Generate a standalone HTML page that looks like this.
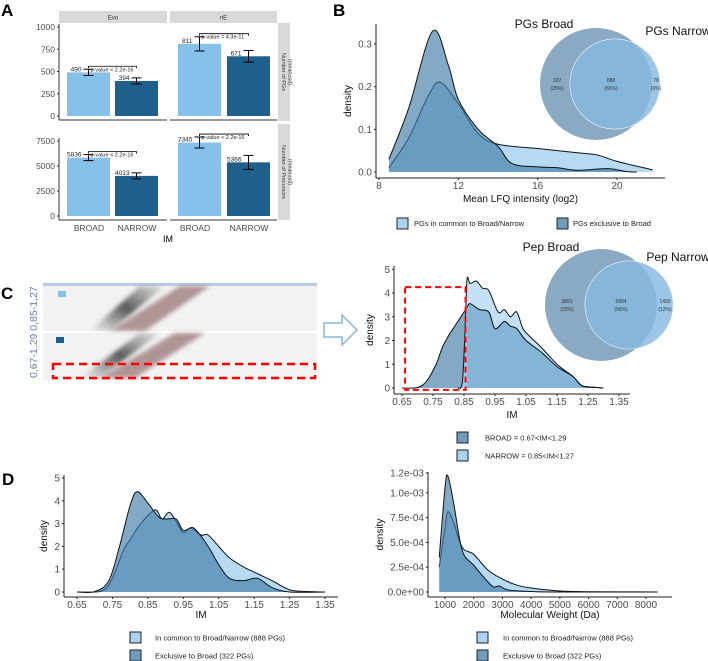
<!DOCTYPE html>
<html><head><meta charset="utf-8"><style>
body{margin:0;background:#fff}
svg{display:block;font-family:"Liberation Sans",sans-serif}
</style></head><body>
<svg id="s" width="708" height="661" viewBox="0 0 708 661" xmlns="http://www.w3.org/2000/svg">
<defs>
<linearGradient id="sm" x1="0" y1="1" x2="1" y2="0"><stop offset="0" stop-color="#444" stop-opacity="0"/><stop offset="0.5" stop-color="#333" stop-opacity="0.8"/><stop offset="1" stop-color="#555" stop-opacity="0.1"/></linearGradient>
<filter id="bl"><feGaussianBlur stdDeviation="2"/></filter>
</defs>
<g font-weight="bold" font-size="17" fill="#000">
<text x="1" y="16">A</text>
<text x="333" y="16">B</text>
<text x="1" y="299">C</text>
<text x="2" y="485">D</text>
</g>
<!-- C left image -->
<g>
<rect x="43" y="283" width="274" height="3" fill="#b9cde6"/>
<rect x="43" y="286" width="274" height="45" fill="#f2f2f2"/>
<rect x="43" y="333" width="274" height="47" fill="#f2f2f2"/>
<polygon points="90,331 110,331 165,286 140,286" fill="url(#sm)" filter="url(#bl)"/>
<polygon points="110,331 145,331 210,286 180,286" fill="#7a4a4a" opacity="0.55" filter="url(#bl)"/>
<polygon points="80,378 100,378 160,333 140,333" fill="url(#sm)" filter="url(#bl)"/>
<polygon points="100,378 135,378 205,333 175,333" fill="#7a4a4a" opacity="0.55" filter="url(#bl)"/>
<rect x="58" y="291" width="8" height="6" fill="#85c1e9"/>
<rect x="56" y="337" width="8" height="6" fill="#1f5f8b"/>
<rect x="53" y="364" width="262" height="14" fill="none" stroke="#f00" stroke-width="2.5" stroke-dasharray="8,5"/>
<text transform="translate(37,378) rotate(-90)" font-size="10.5" fill="#6f7fb0">0,67-1,29 0,85-1,27</text>
<path d="M324,323 h18 v-8 l15,15 l-15,15 v-8 h-18 z" fill="#fff" stroke="#85b5dd" stroke-width="1.5"/>
</g>
<g id="g"></g>
</svg>
<script>
// ---- data ----
const barCats=["BROAD","NARROW"];
const pgsEvo=[490,394], pgsEvoErr=[35,35];
const pgsNE=[811,671], pgsNEErr=[80,65];
const precEvo=[5836,4013], precEvoErr=[300,300];
const precNE=[7345,5366], precNEErr=[550,700];
const bX_common=[8.5,9.5,10.5,11.1,12,13,14,16,18,19,20,21.8];
const bY_common=[0.01,0.08,0.18,0.21,0.16,0.09,0.065,0.055,0.045,0.04,0.025,0.005];
const bX_excl=[8.5,9.5,10.7,11.5,12,13,14,14.7,16,17,18,19.5,20.5,21];
const bY_excl=[0.03,0.15,0.33,0.25,0.17,0.1,0.06,0.02,0.012,0.01,0.004,0.008,0.001,0];
const cX_broad=[0.65,0.70,0.73,0.76,0.78,0.80,0.82,0.84,0.86,0.87,0.90,0.93,0.95,0.98,1.00,1.02,1.05,1.10,1.15,1.20,1.23,1.27,1.30];
const cY_broad=[0,0.02,0.3,1.0,1.7,2.2,2.6,3.0,3.4,3.55,3.3,3.2,2.5,2.8,2.6,2.5,2.0,1.5,0.9,0.5,0.1,0.03,0];
const cX_narrow=[0.83,0.845,0.855,0.86,0.87,0.89,0.91,0.93,0.96,0.98,1.0,1.02,1.04,1.06,1.10,1.15,1.20,1.23,1.27];
const cY_narrow=[0,0.3,3.0,4.6,4.4,4.5,4.2,4.1,3.2,3.3,3.0,3.2,2.5,2.2,1.7,1.0,0.5,0.1,0.01];
const dX_common=[0.65,0.72,0.75,0.78,0.80,0.83,0.87,0.89,0.91,0.93,0.95,0.97,1.0,1.02,1.05,1.08,1.12,1.16,1.2,1.25,1.3,1.35];
const dY_common=[0,0.05,0.6,1.8,2.3,3.0,3.6,3.2,3.5,3.1,2.6,2.8,2.5,2.5,2.0,1.5,1.1,0.8,0.5,0.1,0.02,0];
const dX_excl=[0.65,0.7,0.74,0.77,0.80,0.82,0.85,0.88,0.90,0.93,0.95,0.98,1.02,1.05,1.08,1.12,1.16,1.20,1.25,1.35];
const dY_excl=[0,0.02,0.5,2.0,3.8,4.4,3.9,3.3,3.2,3.2,2.7,2.8,2.0,1.2,0.6,0.5,0.6,0.2,0,0];
const mwX_common=[800,1000,1100,1300,1600,2000,2500,3000,3500,4000,5000,6000,8400];
const mwY_common=[2.5e-4,6.5e-4,8.1e-4,7e-4,4.5e-4,3.8e-4,2.2e-4,1.3e-4,7e-5,4e-5,1e-5,3e-6,0];
const mwX_excl=[800,1000,1100,1300,1600,2000,2500,2700,2900,3200,4000,5000,8400];
const mwY_excl=[3.5e-4,1.05e-3,1.17e-3,9e-4,4.2e-4,2.7e-4,1.0e-4,5e-5,6e-5,2e-5,5e-6,0,0];

const NS="http://www.w3.org/2000/svg", G=document.getElementById('g');
function el(t,a,p){const e=document.createElementNS(NS,t);for(const k in a)e.setAttribute(k,a[k]);(p||G).appendChild(e);return e;}
function txt(x,y,s,a,p){const e=el('text',Object.assign({x:x,y:y},a||{}),p);e.textContent=s;return e;}
const LIGHT="#85c1e9",DARK="#1f5f8b",GREY="#4d4d4d";

// ---- Panel A ----
function lin(d0,d1,r0,r1){return v=>r0+(v-d0)/(d1-d0)*(r1-r0);}
const stripY=11,stripH=12;
[["Evo",59,167],["nE",170,277]].forEach(([n,x0,x1])=>{
 const r=el('rect',{x:x0,y:stripY,width:x1-x0,height:stripH,fill:"#d9d9d9"});
 
 
 txt((x0+x1)/2,stripY+8.5,n,{'font-size':6,'text-anchor':'middle',fill:'#333'});
});
[[23,121,"Number of PGs","(mean±sd)"],[124,220,"Number of Precursors","(mean±sd)"]].forEach(([y0,y1,a,b],i)=>{
 const r=el('rect',{x:278,y:y0,width:12,height:y1-y0,fill:"#d9d9d9"});
 
 
 const t=txt(0,0,a,{'font-size':5.5,'text-anchor':'middle',fill:'#333',transform:`translate(${282},${(y0+y1)/2}) rotate(90)`});
 txt(0,0,b,{'font-size':5.5,'text-anchor':'middle',fill:'#333',transform:`translate(${288.5},${(y0+y1)/2}) rotate(90)`});
});
function barRow(yA,yB,maxV,ticks,evo,evoE,ne,neE,pv){
 const y=lin(0,maxV,yB,yA);
 el('line',{x1:59,y1:y(0)+4,x2:59,y2:y(ticks[ticks.length-1])-3,stroke:'#333','stroke-width':1});
 ticks.forEach(t=>{el('line',{x1:57,x2:59,y1:y(t),y2:y(t),stroke:'#333'});
  const tl=txt(55,y(t)+3,String(t),{'font-size':8.5,'text-anchor':'end',fill:GREY});
  });
 [[evo,evoE,[67,115],0],[ne,neE,[178,227],1]].forEach(([v,e,xs,fi])=>{
  v.forEach((val,i)=>{
   const b=el('rect',{x:xs[i],y:y(val),width:43,height:y(0)-y(val),fill:i?DARK:LIGHT});
   
   
   const cx=xs[i]+21.5;
   el('path',{d:`M${cx-5},${y(val+e[i])}h10M${cx},${y(val+e[i])}V${y(val-e[i])}M${cx-5},${y(val-e[i])}h10`,stroke:'#000','stroke-width':1,fill:'none'});
   txt(cx-7,y(val)-1,String(val),{'font-size':6.5,'text-anchor':'end',fill:'#222'});
  });
  const by=y(Math.max(v[0]+e[0],v[1]+e[1]))-3, bx0=xs[0]+21.5, bx1=xs[1]+21.5;
  el('path',{d:`M${bx0},${by+2}V${by}H${bx1}V${by+2}`,stroke:'#000','stroke-width':0.8,fill:'none'});
  txt(bx0+2,by+5,pv[fi],{'font-size':5.5,fill:'#222'});
 });
 el('line',{x1:59,x2:167,y1:yB+4,y2:yB+4,stroke:'#333'});
 el('line',{x1:170,x2:277,y1:yB+4,y2:yB+4,stroke:'#333'});
}
barRow(27,116,1000,[0,250,500,750,1000],pgsEvo,pgsEvoErr,pgsNE,pgsNEErr,["p-value < 2.2e-16","p-value = 4.3e-11"]);
barRow(141,216,7500,[0,2500,5000,7500],precEvo,precEvoErr,precNE,precNEErr,["p-value < 2.2e-16","p-value < 2.2e-16"]);
[[89,"BROAD"],[137,"NARROW"],[195,"BROAD"],[249,"NARROW"]].forEach(([x,s])=>{
 const t=txt(x,231,s,{'font-size':8.5,'text-anchor':'middle',fill:GREY});
 });
txt(168,242,"IM",{'font-size':9,'text-anchor':'middle',fill:'#000'});

// ---- generic density chart ----
function smooth(pts){let d=`M${pts[0][0]},${pts[0][1]}`;for(let i=0;i<pts.length-1;i++){const p0=pts[i-1]||pts[i],p1=pts[i],p2=pts[i+1],p3=pts[i+2]||p2;
 d+=`C${p1[0]+(p2[0]-p0[0])/6},${p1[1]+(p2[1]-p0[1])/6} ${p2[0]-(p3[0]-p1[0])/6},${p2[1]-(p3[1]-p1[1])/6} ${p2[0]},${p2[1]}`;}return d;}
function density(sx,sy,X,Y,fill,op,name){
 const pts=X.map((v,i)=>[sx(v),sy(Y[i])]);
 const line=smooth(pts);
 const a=el('path',{d:line+`L${pts[pts.length-1][0]},${sy(0)}L${pts[0][0]},${sy(0)}Z`,fill:fill,'fill-opacity':op,stroke:'none'});
 
 el('path',{d:line,fill:'none',stroke:'#111','stroke-width':1});
}
function axes(x0,x1,yTop,y0,axY,xt,sx,yt,sy,fmt,xl,xlY,ylX,fs){
 el('line',{x1:x0,x2:x0,y1:yTop,y2:axY,stroke:'#222'});
 el('line',{x1:x0,x2:x1,y1:axY,y2:axY,stroke:'#222'});
 xt.forEach(v=>{el('line',{x1:sx(v),x2:sx(v),y1:axY,y2:axY+2,stroke:'#222'});
  const t=txt(sx(v),axY+11,fmt?fmt.x(v):String(v),{'font-size':fs,'text-anchor':'middle',fill:GREY});
  });
 yt.forEach(v=>{el('line',{x1:x0-2,x2:x0,y1:sy(v),y2:sy(v),stroke:'#222'});
  const t=txt(x0-4,sy(v)+3.5,fmt?fmt.y(v):String(v),{'font-size':fs,'text-anchor':'end',fill:GREY});
  });
 const t=txt((x0+x1)/2,xlY,xl,{'font-size':10,'text-anchor':'middle',fill:'#111'});
 
 const y=txt(0,0,"density",{'font-size':10,'text-anchor':'middle',fill:'#111',transform:`translate(${ylX},${(yTop+axY)/2}) rotate(-90)`});
 
}
function legend(x,y,items,tx){items.forEach(([c,s],i)=>{
 const r=el('rect',{x:x,y:y+i*18,width:11,height:11,fill:c,stroke:'#222'});
 
 const t=txt(tx,y+i*18+8.5,s,{'font-size':7.5,fill:'#222'});
 });}
const CL="#a9d3f0",CD="#3f7ba6";

// Panel B
{const sx=lin(8,20,379,617),sy=lin(0,0.3,172,44);
 const f2=v=>v.toFixed(1);
 axes(376,665,24,0,178,[8,12,16,20],sx,[0,0.1,0.2,0.3],sy,{x:String,y:f2},"Mean LFQ intensity (log2)",202,351,10);
 density(sx,sy,bX_common,bY_common,CL,0.85,'density-common');
 density(sx,sy,bX_excl,bY_excl,CD,0.65,'density-exclusive');
 const lg=[[CL,"PGs in common to Broad/Narrow"]];
 let r=el('rect',{x:397,y:218,width:11,height:11,fill:CL,stroke:'#222'});txt(414,226,"PGs in common to Broad/Narrow",{'font-size':7.5,fill:'#222'});
 r=el('rect',{x:557,y:218,width:11,height:11,fill:"#6f9cbd",stroke:'#222'});txt(573,226,"PGs exclusive to Broad",{'font-size':7.5,fill:'#222'});
}
function venn(cx1,cy,r1,cx2,r2,t1,t2,p1,p2,vals,pcts){
 const a=el('circle',{cx:cx1,cy:cy,r:r1,fill:"#8aa9c2"});
 const b=el('circle',{cx:cx2,cy:cy,r:r2,fill:"#9ccbee",'fill-opacity':0.55,stroke:'#fff','stroke-width':0.8});
 const c=el('circle',{cx:cx2,cy:cy,r:r2,fill:"#7fb3dc",'fill-opacity':0.6});
 el('clipPath',{id:'cp'+cx1});
 txt(p1[0],p1[1],t1,{'font-size':12,'text-anchor':'middle',fill:'#111'});
 txt(p2[0],p2[1],t2,{'font-size':12,'text-anchor':'middle',fill:'#111'});
 const xs=[(cx1-r1+cx2-r2)/2+2,(cx2-r2+cx1+r1)/2,(cx1+r1+cx2+r2)/2];
 vals.forEach((v,i)=>{txt(xs[i],cy-2,v,{'font-size':5,'text-anchor':'middle',fill:'#333'});txt(xs[i],cy+6,pcts[i],{'font-size':5,'text-anchor':'middle',fill:'#333'});});
}
venn(596,84,56,615,45,"PGs Broad","PGs Narrow",[544,28],[678,35],["322","888","78"],["(25%)","(69%)","(6%)"]);

// Panel C right
{const sx=lin(0.65,1.35,402,619),sy=lin(0,4,388,293);
 const xt=[0.65,0.75,0.85,0.95,1.05,1.15,1.25,1.35];
 axes(394,630,266,0,394,xt,sx,[0,1,2,3,4,5],sy,{x:v=>v.toFixed(2),y:String},"IM",418,373,10);
 density(sx,sy,cX_broad,cY_broad,CD,0.65,'density-broad');
 density(sx,sy,cX_narrow,cY_narrow,CL,0.7,'density-narrow');
 density(sx,sy,cX_broad.filter(v=>v>=0.85),cY_broad.filter((v,i)=>cX_broad[i]>=0.85),"#6aa3cc",0.5,'density-overlap');
 const r=el('rect',{x:sx(0.66),y:sy(4.25),width:sx(0.855)-sx(0.66),height:sy(-0.08)-sy(4.25),fill:'none',stroke:'#f00','stroke-width':2,'stroke-dasharray':'6,4'});
 
 legend(457,432,[["#6f9cbd","BROAD = 0.67<IM<1.29"],[CL,"NARROW = 0.85<IM<1.27"]],485);
}
venn(601,305,56,629,44,"Pep Broad","Pep Narrow",[551,251],[678,261],["3891","6904","1430"],["(32%)","(56%)","(12%)"]);

// Panel D left
{const sx=lin(0.65,1.35,77,325),sy=lin(0,5,592,478);
 const xt=[0.65,0.75,0.85,0.95,1.05,1.15,1.25,1.35];
 axes(64,338,475,0,597,xt,sx,[0,1,2,3,4,5],sy,{x:v=>v.toFixed(2),y:String},"IM",618,47,10);
 density(sx,sy,dX_common,dY_common,CL,0.85,'density-common-im');
 density(sx,sy,dX_excl,dY_excl,CD,0.65,'density-exclusive-im');
 legend(130,632,[[CL,"In common to Broad/Narrow (888 PGs)"],["#6f9cbd","Exclusive to Broad (322 PGs)"]],155);
}
// Panel D right
{const sx=lin(1000,8000,445,646),sy=lin(0,1.2e-3,592,473);
 const yt=[0,2.5e-4,5e-4,7.5e-4,1e-3,1.2e-3];
 axes(428,672,472,0,597,[1000,2000,3000,4000,5000,6000,7000,8000],sx,yt,sy,{x:String,y:v=>v.toExponential(1).replace(/e([+-])(\d)$/,'e$10$2')},"Molecular Weight (Da)",618,383,10);
 density(sx,sy,mwX_common,mwY_common,CL,0.85,'density-common-mw');
 density(sx,sy,mwX_excl,mwY_excl,CD,0.65,'density-exclusive-mw');
 legend(477,632,[[CL,"In common to Broad/Narrow (888 PGs)"],["#6f9cbd","Exclusive to Broad (322 PGs)"]],503);
}
</script>
</body></html>
